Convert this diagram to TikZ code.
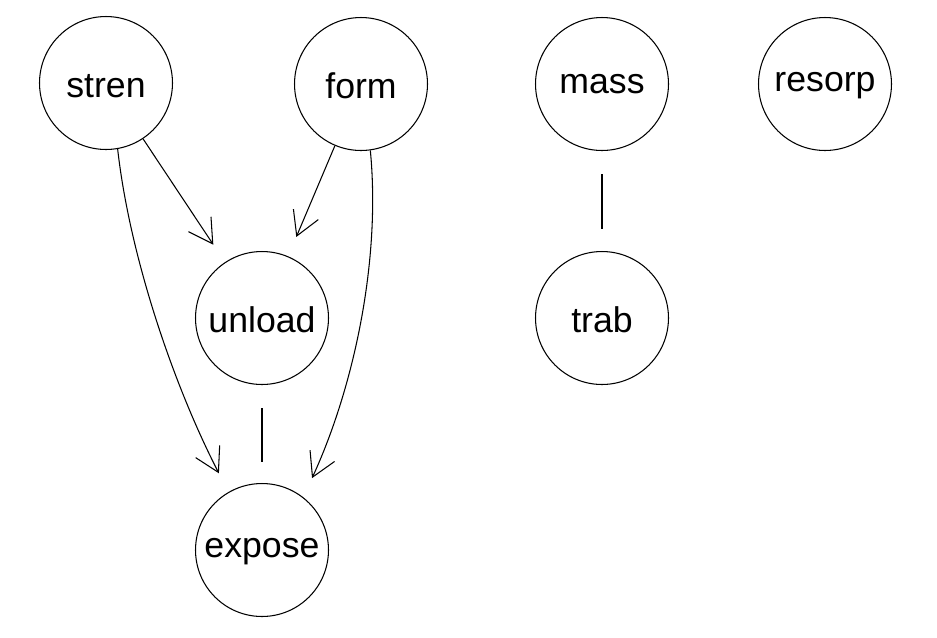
\documentclass[tikz,border=0pt]{standalone}
\usepackage{fontspec}
\setmainfont{Liberation Sans}
\usetikzlibrary{arrows.meta}

\begin{document}
\begin{tikzpicture}[
        x=0.02cm, y=-0.02cm,
        var/.style={draw, circle, minimum size=2.66cm, inner sep=0pt, line width=0.6pt, font=\fontsize{20.3}{24}\selectfont},
        tall/.style={text height=0.56cm, text depth=0pt},
        low/.style={text depth=0.1cm},
        arrow/.style={-{Straight Barb[length=0.47cm, width=0.54cm]}, line width=0.6pt, shorten >=0.42cm},
        link/.style={line width=0.6pt, shorten <=0.46cm, shorten >=0.43cm}
    ]
        \useasboundingbox (0,0) rectangle (937,637);

        % Top row
        \node[var, tall] (stren) at (106, 83) {stren};
        \node[var, tall] (form) at (361, 84) {form};
        \node[var] (mass) at (602, 84) {mass};
        \node[var, low] (resorp) at (825, 84) {resorp};

        % Middle row
        \node[var, tall] (unload) at (262, 318) {unload};
        \node[var, tall] (trab) at (602, 318) {trab};

        % Bottom
        \node[var, low] (expose) at (262, 550) {expose};

        % Arrows
        \draw[arrow] (stren) -- (unload);
        \draw[arrow] (form) -- (unload);
        \draw[arrow] (stren.-80) .. controls (130, 258) and (174, 386) .. (expose.120);
        \draw[arrow] (form.-82) .. controls (381, 260) and (354, 387) .. (expose.52);

        % Undirected links
        \draw[link] (unload) -- (expose);
        \draw[link] (mass) -- (trab);
    \end{tikzpicture}
\end{document}
